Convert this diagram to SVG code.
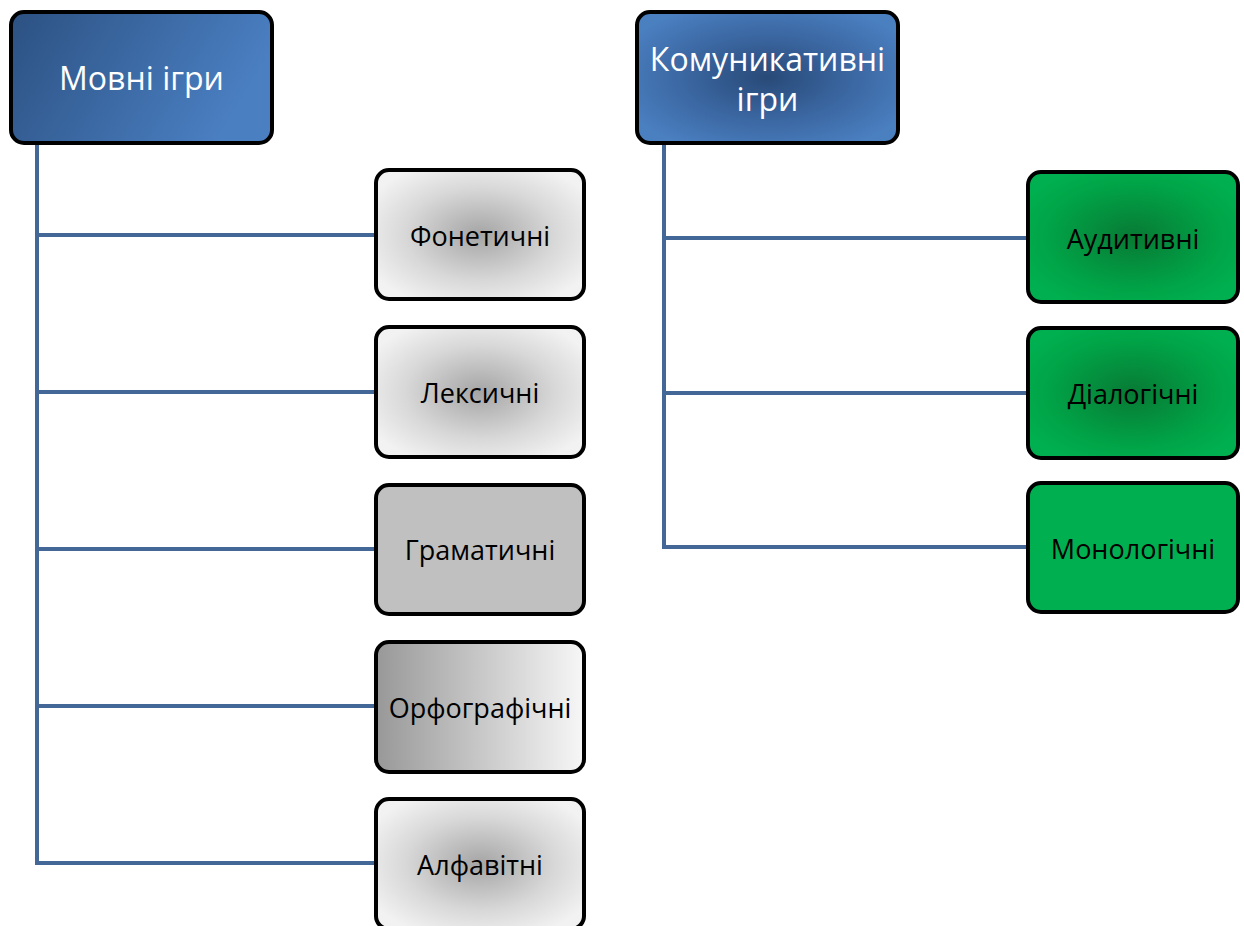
<svg xmlns="http://www.w3.org/2000/svg" width="1244" height="926" viewBox="0 0 1244 926">
<style>
.box{stroke:#000;stroke-width:4}
.conn{stroke:#436898;stroke-width:4;fill:none}
.t{font-family:"Open Sans","Liberation Sans",sans-serif;text-anchor:middle;dominant-baseline:central}
.w{fill:#fff;font-size:32px}
.b{fill:#000;font-size:27px}
</style>
<defs>
<linearGradient id="gBlueLin" x1="0" y1="0" x2="1" y2="0.3">
<stop offset="0" stop-color="#2c5182"/><stop offset="1" stop-color="#4a7fc2"/>
</linearGradient>
<radialGradient id="gBlueRad" cx="0.5" cy="0.5" r="0.6">
<stop offset="0" stop-color="#284a78"/><stop offset="0.6" stop-color="#3d6aa6"/><stop offset="1" stop-color="#4a7fc0"/>
</radialGradient>
<radialGradient id="gGreyRad" cx="0.5" cy="0.5" r="0.6">
<stop offset="0" stop-color="#a5a5a5"/><stop offset="0.6" stop-color="#d8d8d8"/><stop offset="1" stop-color="#f2f2f2"/>
</radialGradient>
<linearGradient id="gGreyLin" x1="0" y1="0" x2="1" y2="0">
<stop offset="0" stop-color="#989898"/><stop offset="1" stop-color="#f7f7f7"/>
</linearGradient>
<radialGradient id="gGreenRad" cx="0.5" cy="0.5" r="0.6">
<stop offset="0" stop-color="#087a34"/><stop offset="0.7" stop-color="#00a548"/><stop offset="1" stop-color="#00b050"/>
</radialGradient>
</defs>
<g id="connectors">
<path class="conn" d="M37 143 V865 M37 235 H376 M37 392 H376 M37 549 H376 M37 706 H376 M37 863 H376"/>
<path class="conn" d="M664 143 V549 M664 238 H1028 M664 393 H1028 M664 547 H1028"/>
</g>
<g id="n-movni"><rect class="box" x="11" y="12" width="261" height="131" rx="13" fill="url(#gBlueLin)"/><text class="t w" x="141.5" y="77">Мовні ігри</text></g>
<g id="n-komun"><rect class="box" x="637" y="12" width="261" height="131" rx="13" fill="url(#gBlueRad)"/><text class="t w" x="767.5" y="58">Комуникативні</text><text class="t w" x="767.5" y="98">ігри</text></g>
<g id="n-fonet"><rect class="box" x="376" y="170" width="208" height="129" rx="13" fill="url(#gGreyRad)"/><text class="t b" x="480" y="235">Фонетичні</text></g>
<g id="n-leks"><rect class="box" x="376" y="327" width="208" height="130" rx="13" fill="url(#gGreyRad)"/><text class="t b" x="480" y="392">Лексичні</text></g>
<g id="n-gram"><rect class="box" x="376" y="485" width="208" height="129" rx="13" fill="#c0c0c0"/><text class="t b" x="480" y="549">Граматичні</text></g>
<g id="n-orfo"><rect class="box" x="376" y="642" width="208" height="130" rx="13" fill="url(#gGreyLin)"/><text class="t b" x="480" y="707">Орфографічні</text></g>
<g id="n-alf"><rect class="box" x="376" y="799" width="208" height="130" rx="13" fill="url(#gGreyRad)"/><text class="t b" x="480" y="864">Алфавітні</text></g>
<g id="n-aud"><rect class="box" x="1028" y="172" width="210" height="130" rx="13" fill="url(#gGreenRad)"/><text class="t b" x="1133" y="238">Аудитивні</text></g>
<g id="n-dial"><rect class="box" x="1028" y="328" width="210" height="130" rx="13" fill="url(#gGreenRad)"/><text class="t b" x="1133" y="393">Діалогічні</text></g>
<g id="n-mono"><rect class="box" x="1028" y="483" width="210" height="129" rx="13" fill="#00b050"/><text class="t b" x="1133" y="548">Монологічні</text></g>
</svg>
